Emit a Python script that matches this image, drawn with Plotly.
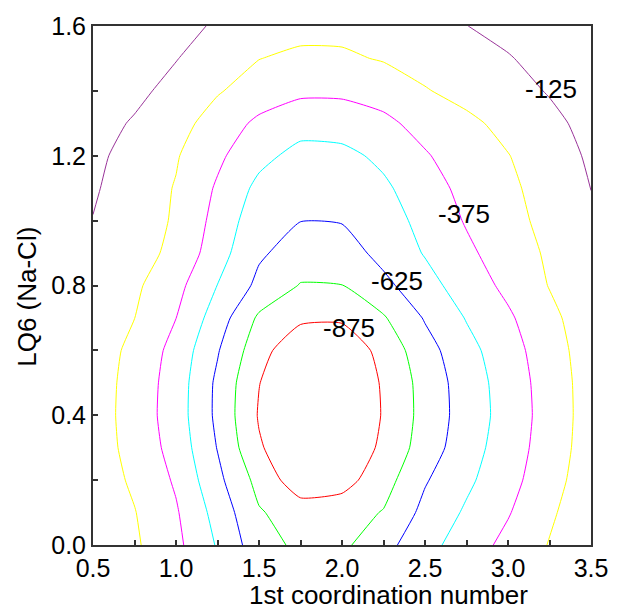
import plotly.graph_objects as go

# Grid of the energy surface
x_vals = [0.5, 0.75, 1.0, 1.25, 1.5, 1.75, 2.0, 2.25, 2.5, 2.75, 3.0, 3.25, 3.5]
y_vals = [0.0, 0.1, 0.2, 0.3, 0.4, 0.5, 0.6, 0.7, 0.8, 0.9, 1.0, 1.1, 1.2, 1.3, 1.4, 1.5, 1.6]

z_y00 = [-165, -232, -344, -511, -700, -777, -776, -666, -544, -437, -341, -244, -165]
z_y01 = [-170, -245, -362, -545, -739, -810, -805, -743, -590, -483, -384, -268, -172]
z_y02 = [-180, -270, -391, -593, -790, -953, -923, -801, -636, -524, -418, -297, -182]
z_y03 = [-188, -291, -421, -630, -862, -970, -975, -850, -691, -553, -438, -315, -192]
z_y04 = [-190, -300, -437, -652, -885, -985, -985, -867, -706, -569, -450, -322, -196]
z_y05 = [-188, -296, -433, -649, -872, -975, -975, -863, -702, -564, -444, -318, -195]
z_y06 = [-180, -283, -416, -615, -828, -970, -965, -834, -674, -540, -426, -305, -188]
z_y07 = [-168, -249, -374, -561, -770, -851, -857, -762, -615, -493, -394, -281, -178]
z_y08 = [-155, -228, -336, -502, -655, -757, -752, -657, -545, -441, -346, -245, -165]
z_y09 = [-142, -212, -274, -450, -608, -679, -685, -586, -492, -399, -314, -232, -152]
z_y10 = [-128, -198, -262, -417, -577, -623, -618, -563, -458, -365, -290, -214, -138]
z_y11 = [-112, -185, -257, -390, -532, -565, -565, -523, -425, -342, -274, -201, -124]
z_y12 = [-98, -169, -240, -351, -464, -540, -535, -471, -385, -318, -254, -183, -108]
z_y13 = [-85, -135, -209, -298, -403, -451, -440, -400, -337, -277, -215, -151, -93]
z_y14 = [-72, -100, -158, -241, -299, -351, -353, -329, -258, -210, -163, -118, -79]
z_y15 = [-60, -90, -121, -181, -248, -272, -270, -240, -203, -167, -130, -98, -66]
z_y16 = [-50, -77, -104, -133, -164, -215, -213, -178, -152, -126, -102, -78, -54]

z_rows = [z_y00, z_y01, z_y02, z_y03, z_y04, z_y05, z_y06, z_y07, z_y08,
          z_y09, z_y10, z_y11, z_y12, z_y13, z_y14, z_y15, z_y16]

# contour levels and their colours
level_start, level_end, level_step = -875, -125, 125
level_colors = ["#ff0000", "#00ff00", "#0000ff", "#00ffff", "#ff00ff", "#ffff00", "#993399"]

# contour labels
label_text = ["-125", "-375", "-625", "-875"]
label_x = [3.262, 2.732, 2.33, 2.045]
label_y = [1.405, 1.019, 0.815, 0.669]

FONT = "Arial, 'Liberation Sans', sans-serif"

n = len(level_colors)
colorscale = [[i / (n - 1), c] for i, c in enumerate(level_colors)]

fig = go.Figure()
fig.add_trace(go.Contour(
    x=x_vals, y=y_vals, z=z_rows,
    autocontour=False,
    contours=dict(start=level_start, end=level_end, size=level_step,
                  coloring="lines", showlabels=False),
    colorscale=colorscale,
    showscale=False,
    line=dict(width=1, smoothing=0.5),
    hoverinfo="skip",
))

for t, lx, ly in zip(label_text, label_x, label_y):
    fig.add_annotation(x=lx, y=ly, xref="x", yref="y", text=t, showarrow=False,
                       font=dict(family=FONT, size=26, color="black"),
                       xanchor="center", yanchor="middle")

fig.add_annotation(text="1st coordination number", xref="paper", yref="paper",
                   x=(392 - 93) / 504, y=0, yshift=-50, showarrow=False,
                   xanchor="center", yanchor="middle",
                   font=dict(family=FONT, size=26, color="black"))
fig.add_annotation(text="LQ6 (Na-Cl)", xref="paper", yref="paper",
                   x=(26 - 93) / 504, y=(545 - 297) / 519, textangle=-90, showarrow=False,
                   xanchor="center", yanchor="middle",
                   font=dict(family=FONT, size=26, color="black"))

axis_common = dict(
    ticks="inside", ticklen=5, tickwidth=1.5, tickcolor="#333",
    showline=True, linewidth=2, linecolor="#333", mirror=True,
    showgrid=False, zeroline=False, tickformat=".1f",
    tickfont=dict(family=FONT, size=25, color="black"),
)

fig.update_xaxes(range=[0.5, 3.5], tick0=0.5, dtick=0.5,
                 minor=dict(ticks="inside", dtick=0.25, tick0=0.5, ticklen=5,
                            tickwidth=1.5, tickcolor="#333", showgrid=False),
                 **axis_common)
fig.update_yaxes(range=[0, 1.6], tick0=0, dtick=0.4,
                 minor=dict(ticks="inside", dtick=0.2, tick0=0, ticklen=5,
                            tickwidth=1.5, tickcolor="#333", showgrid=False),
                 **axis_common)

fig.update_layout(
    width=620, height=612,
    margin=dict(l=93, r=23, t=26, b=67),
    paper_bgcolor="white", plot_bgcolor="white",
    showlegend=False,
)

fig.write_html("out.html")
